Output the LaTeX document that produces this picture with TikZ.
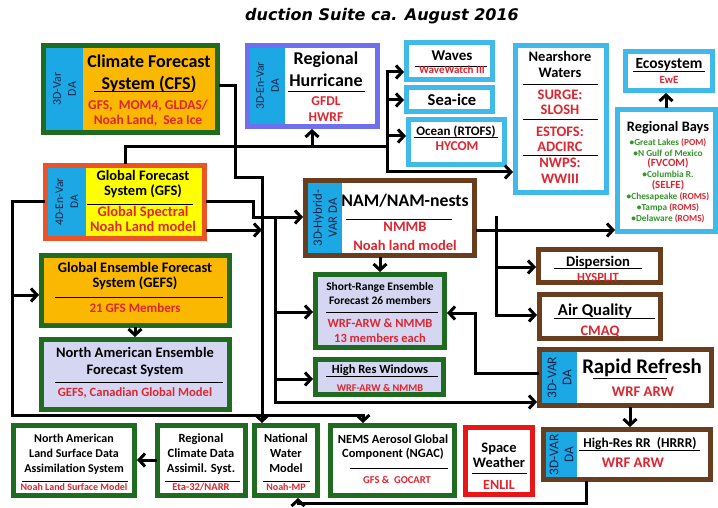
\documentclass[tikz,border=0pt]{standalone}
\usepackage{fontspec}
\setmainfont{Carlito}
\newfontfamily\headfont{DejaVu Sans}
\usetikzlibrary{arrows.meta,fit}

\definecolor{boxgreen}{RGB}{31,107,31}
\definecolor{boxorange}{RGB}{250,184,0}
\definecolor{dablue}{RGB}{28,168,228}
\definecolor{modred}{RGB}{222,38,48}
\definecolor{hurpurple}{RGB}{112,112,238}
\definecolor{seablue}{RGB}{64,186,234}
\definecolor{nambrown}{RGB}{104,62,30}
\definecolor{lavender}{RGB}{212,214,242}
\definecolor{gfsorange}{RGB}{236,84,40}
\definecolor{gfsyellow}{RGB}{255,255,0}
\definecolor{baygreen}{RGB}{52,150,40}
\definecolor{spacered}{RGB}{232,22,22}
\definecolor{danavy}{RGB}{25,35,70}

\newcommand\setfs[2]{\fontsize{#1}{#2}\selectfont}

\tikzset{
  box/.style={draw, line width=5pt, inner sep=0pt},
  conn/.style={line width=3pt, line cap=rect},
  arr/.style={conn, -{Straight Barb[length=6pt,width=13pt]}},
  hd/.style={align=center, anchor=base, inner sep=0pt},
  md/.style={hd, text=modred},
  da/.style={rotate=90, align=center, inner sep=0pt, text=danavy, font=\setfs{12}{15}},
  rule/.style={line width=1pt}
}

\begin{document}
\begin{tikzpicture}[x=1pt,y=-1pt]
\useasboundingbox (0,0) rectangle (718,508);

% title (multi-line nodes below sit on their last baseline)
\node[anchor=base, inner sep=0pt, font=\headfont\bfseries\itshape\setfs{16}{19}] (title) at (382,21) {duction Suite ca. August 2016};

% climate forecast system
\node[box, draw=boxgreen, fill=boxorange, fit={(43.5,45.5)(217.5,132.5)}] (cfs) {};
\fill[dablue] (46,48) rectangle (83,130);
\node[da] (cfs-da) at (64.5,89) {3D-Var\\DA};
\node[hd, font=\bfseries\setfs{18}{22}] (cfs-t) at (149,90) {Climate Forecast\\System (CFS)};
\draw[rule] (94,92) -- (193,92);
\node[md, font=\bfseries\setfs{13.5}{15}] (cfs-m) at (148,125) {GFS,\ \ MOM4, GLDAS/\\Noah Land,\ \ Sea Ice};

% regional hurricane
\node[box, draw=hurpurple, fill=white, fit={(247.5,45.5)(377.5,126.5)}] (hur) {};
\fill[dablue] (250,48) rectangle (285,124);
\node[da, font=\setfs{11.6}{15}] (hur-da) at (267.5,86) {3D-En-Var\\DA};
\node[hd, font=\bfseries\setfs{18}{22}] (hur-t) at (326,87) {Regional\\Hurricane};
\draw[rule] (288,92) -- (365,92);
\node[md, font=\bfseries\setfs{13.5}{16}] (hur-m) at (326,122) {GFDL\\HWRF};

% ocean side
\node[box, draw=seablue, fill=white, fit={(406.5,42.5)(492.5,79.5)}] (waves) {};
\node[hd, font=\bfseries\setfs{15}{18}] (waves-t) at (452,61) {Waves};
\draw[rule] (415,67) -- (487,67);
\node[md, font=\bfseries\setfs{11}{13}] (waves-m) at (452,74) {WaveWatch III};

\node[box, draw=seablue, fill=white, fit={(406.5,87.5)(492.5,111.5)}] (seaice) {};
\node[hd, font=\bfseries\setfs{16.5}{20}] (seaice-t) at (452,106) {Sea-ice};

\node[box, draw=seablue, fill=white, fit={(408.5,119.5)(504.5,164.5)}] (ocean) {};
\node[hd, font=\bfseries\setfs{13}{16}] (ocean-t) at (456,136) {Ocean (RTOFS)};
\draw[rule] (414,138) -- (498,138);
\node[md, font=\bfseries\setfs{13.5}{16}] (ocean-m) at (457,151) {HYCOM};

\node[box, draw=seablue, fill=white, fit={(515.5,45.5)(606.5,192.5)}] (near) {};
\node[hd, font=\bfseries\setfs{14.5}{16}] (near-t) at (560,78) {Nearshore\\Waters};
\draw[rule] (523,85) -- (598,85);
\node[md, font=\bfseries\setfs{14.5}{15}] (near-m1) at (560,115) {SURGE:\\SLOSH};
\draw[rule] (523,120) -- (598,120);
\node[md, font=\bfseries\setfs{14.5}{15}] (near-m2) at (560,152) {ESTOFS:\\ADCIRC};
\draw[rule] (523,156) -- (598,156);
\node[md, font=\bfseries\setfs{14.5}{17}] (near-m3) at (560,184) {NWPS:\\WWIII};

\node[box, draw=seablue, fill=white, fit={(625.5,51.5)(712.5,90.5)}] (eco) {};
\node[hd, font=\bfseries\setfs{15.5}{18}] (eco-t) at (669,69) {Ecosystem};
\draw[rule] (633,72) -- (705,72);
\node[md, font=\bfseries\setfs{11}{13}] (eco-m) at (669,84) {EwE};

\node[box, draw=seablue, fill=white, fit={(617.5,109.5)(715.5,231.5)}] (bays) {};
\node[hd, font=\bfseries\setfs{14.4}{17}] (bays-t) at (668,132) {Regional Bays};
\node[hd, text=baygreen, font=\bfseries\setfs{9.3}{11}] (bays-m) at (668,222)
  {\textbullet Great Lakes \textcolor{modred}{(POM)}\\
   \textbullet N Gulf of Mexico\\
   \textcolor{modred}{\setfs{11}{11}(FVCOM)}\\
   \textbullet Columbia R.\\
   \textcolor{modred}{\setfs{11}{11}(SELFE)}\\
   \textbullet Chesapeake \textcolor{modred}{(ROMS)}\\
   \textbullet Tampa \textcolor{modred}{(ROMS)}\\
   \textbullet Delaware \textcolor{modred}{(ROMS)}};

% global forecast system
\node[box, draw=gfsorange, fill=gfsyellow, fit={(45.5,165.5)(204.5,238.5)}] (gfs) {};
\fill[dablue] (48,168) rectangle (86,236);
\node[da, font=\setfs{11.6}{15}] (gfs-da) at (67,202) {4D-En-Var\\DA};
\node[hd, font=\bfseries\setfs{14.5}{15}] (gfs-t) at (143,196) {Global Forecast\\System (GFS)};
\draw[rule] (87,205) -- (193,205);
\node[md, font=\bfseries\setfs{14.5}{15}] (gfs-m) at (143,232) {Global Spectral\\Noah Land model};

\node[box, draw=boxgreen, fill=boxorange, fit={(41.5,255.5)(229.5,325.5)}] (gefs) {};
\node[hd, font=\bfseries\setfs{14.5}{15}] (gefs-t) at (135,287) {Global Ensemble Forecast\\System (GEFS)};
\draw[rule] (55,297) -- (223,297);
\node[md, font=\bfseries\setfs{13}{15}] (gefs-m) at (135,312) {21 GFS Members};

\node[box, draw=boxgreen, fill=lavender, fit={(41.5,339.5)(229.5,409.5)}] (naefs) {};
\node[hd, font=\bfseries\setfs{14.5}{17}] (naefs-t) at (135,374) {North American Ensemble\\Forecast System};
\draw[rule] (55,382) -- (223,382);
\node[md, font=\bfseries\setfs{12.6}{15}] (naefs-m) at (135,396) {GEFS, Canadian Global Model};

% bottom row
\node[box, draw=boxgreen, fill=white, fit={(13.5,425.5)(134.5,495.5)}] (nldas) {};
\node[hd, font=\bfseries\setfs{12}{15}] (nldas-t) at (74,472) {North American\\Land Surface Data\\Assimilation System};
\draw[rule] (22,481) -- (128,481);
\node[md, font=\bfseries\setfs{10}{12}] (nldas-m) at (74,490) {Noah Land Surface Model};

\node[box, draw=boxgreen, fill=white, fit={(157.5,425.5)(245.5,495.5)}] (rcd) {};
\node[hd, font=\bfseries\setfs{12.5}{15}] (rcd-t) at (201,472) {Regional\\Climate Data\\Assimil. Syst.};
\draw[rule] (165,481) -- (240,481);
\node[md, font=\bfseries\setfs{10.5}{12}] (rcd-m) at (201,490) {Eta-32/NARR};

\node[box, draw=boxgreen, fill=white, fit={(254.5,425.5)(317.5,495.5)}] (nwm) {};
\node[hd, font=\bfseries\setfs{12.4}{15}] (nwm-t) at (286,472) {National\\Water\\Model};
\draw[rule] (263,481) -- (310,481);
\node[md, font=\bfseries\setfs{10}{12}] (nwm-m) at (286,490) {Noah-MP};

\node[box, draw=boxgreen, fill=white, fit={(330.5,425.5)(454.5,495.5)}] (ngac) {};
\node[hd, font=\bfseries\setfs{12.5}{14}] (ngac-t) at (393,457) {NEMS Aerosol Global\\Component (NGAC)};
\draw[rule] (350,468) -- (448,468);
\node[md, font=\bfseries\setfs{10.5}{12}] (ngac-m) at (397,483) {GFS \&\ \ GOCART};

\node[box, draw=spacered, fill=white, fit={(465.5,427.5)(532.5,494.5)}] (spw) {};
\node[hd, font=\bfseries\setfs{14.5}{15}] (spw-t) at (499,467) {Space\\Weather};
\draw[rule] (472,473) -- (527,473);
\node[md, font=\bfseries\setfs{14}{16}] (spw-m) at (499,489) {ENLIL};

% mesoscale
\node[box, draw=nambrown, fill=white, fit={(305.5,180.5)(474.5,255.5)}] (nam) {};
\fill[dablue] (308,183) rectangle (342,253);
\node[da, font=\setfs{12.8}{15}] (nam-da) at (325,218) {3D-Hybrid-\\VAR DA};
\node[hd, font=\bfseries\setfs{17.7}{20}] (nam-t) at (405,207) {NAM/NAM-nests};
\draw[rule] (346,219) -- (452,219);
\node[md, font=\bfseries\setfs{14.5}{18}] (nam-m) at (405,250) {NMMB\\Noah land model};

\node[box, draw=boxgreen, fill=lavender, fit={(315.5,274.5)(444.5,347.5)}] (sref) {};
\node[hd, font=\bfseries\setfs{11.5}{14}] (sref-t) at (380,304) {Short-Range Ensemble\\Forecast 26 members};
\draw[rule] (326,312) -- (438,312);
\node[md, font=\bfseries\setfs{12.5}{15}] (sref-m) at (380,342) {WRF-ARW \& NMMB\\13 members each};

\node[box, draw=boxgreen, fill=lavender, fit={(315.5,359.5)(443.5,394.5)}] (hrw) {};
\node[hd, font=\bfseries\setfs{12.5}{15}] (hrw-t) at (380,373) {High Res Windows};
\draw[rule] (326,376) -- (438,376);
\node[md, font=\bfseries\setfs{10.3}{12}] (hrw-m) at (380,391) {WRF-ARW \& NMMB};

\node[box, draw=nambrown, fill=white, fit={(538.5,249.5)(660.5,282.5)}] (disp) {};
\node[hd, font=\bfseries\setfs{14.6}{17}] (disp-t) at (598,266) {Dispersion};
\draw[rule] (554,268) -- (642,268);
\node[md, font=\bfseries\setfs{12.5}{15}] (disp-m) at (598,281) {HYSPLIT};

\node[box, draw=nambrown, fill=white, fit={(539.5,294.5)(660.5,338.5)}] (aq) {};
\node[hd, font=\bfseries\setfs{16.6}{19}] (aq-t) at (595,315) {Air Quality};
\draw[rule] (554,318) -- (655,318);
\node[md, font=\bfseries\setfs{14.5}{17}] (aq-m) at (600,335) {CMAQ};

\node[box, draw=nambrown, fill=white, fit={(539.5,349.5)(711.5,405.5)}] (rap) {};
\fill[dablue] (542,352) rectangle (577,403);
\node[da, font=\setfs{13.4}{15}] (rap-da) at (559.5,377.5) {3D-VAR\\DA};
\node[hd, font=\bfseries\setfs{20.8}{24}] (rap-t) at (642,373) {Rapid Refresh};
\draw[rule] (593,378) -- (667,378);
\node[md, font=\bfseries\setfs{14.7}{17}] (rap-m) at (643,396) {WRF ARW};

\node[box, draw=nambrown, fill=white, fit={(543.5,429.5)(710.5,479.5)}] (hrrr) {};
\fill[dablue] (546,432) rectangle (577,477);
\node[da, font=\setfs{13.4}{15}] (hrrr-da) at (561.5,455) {3D-VAR\\DA};
\node[hd, font=\bfseries\setfs{13.5}{16}] (hrrr-t) at (640,447) {High-Res RR\ \ (HRRR)};
\draw[rule] (579,450) -- (700,450);
\node[md, font=\bfseries\setfs{14.7}{17}] (hrrr-m) at (633,467) {WRF ARW};

% junctions
\coordinate (oceanbus) at (387,147);
\coordinate (gfsbus) at (275,217);
\coordinate (cfsline) at (262,230);
\coordinate (nambus) at (496,217);
\coordinate (leftbus) at (12,295);

% connectors
\draw[arr] (cfs.east |- 0,86) -- (235,86) -- (235,178) -- (262,178) -- (nwm.north -| 262,0);
\draw[arr] (gfs.north -| 125,0) -- (125,147) -- (oceanbus) -- (387,172) -- (near.west |- 0,172);
\draw[arr] (oceanbus) -- (387,72) -- (waves.west |- 0,72);
\draw[arr] (oceanbus |- 0,100) -- (seaice.west |- 0,100);
\draw[arr] (oceanbus |- 0,136) -- (ocean.west |- 0,136);
\draw[arr] (312,147) -- (hur.south -| 312,0);
\draw[arr] (gfs.west |- 0,202) -- (12,202) -- (12,415) -- (363,415) -- (ngac.north -| 363,0);
\draw[arr] (leftbus) -- (gefs.west |- leftbus);
\draw[arr] (gefs.south -| 135,0) -- (naefs.north -| 135,0);
\draw[arr] (rcd.west |- 0,460) -- (nldas.east |- 0,460);
\draw[arr] (gfs.east |- 0,202) -- (253,202) -- (253,217) -- (nam.west |- gfsbus);
\draw[arr] (gfsbus) -- (275,402) -- (rap.west |- 0,402);
\draw[arr] (gfsbus |- 0,312) -- (sref.west |- 0,312);
\draw[arr] (gfsbus |- 0,379) -- (hrw.west |- 0,379);
\draw[arr] (gfs.east |- cfsline) -- (cfsline);
\draw[arr] (nam.south -| 380,0) -- (sref.north -| 380,0);
\draw[arr] (nam.east |- 0,230) -- (bays.west |- 0,230);
\draw[arr] (nambus) -- (496,315) -- (aq.west |- 0,315);
\draw[arr] (nambus |- 0,267) -- (disp.west |- 0,267);
\draw[arr] (rap.west |- 0,373) -- (475,373) -- (475,313) -- (sref.east |- 0,313);
\draw[arr] (rap.south -| 630,0) -- (hrrr.north -| 630,0);
\draw[arr] (hrrr.south -| 586,0) -- (586,503) -- (298,503) -- (nwm.south -| 298,0);
\draw[arr] (bays.north -| 666,0) -- (eco.south -| 666,0);
\end{tikzpicture}
\end{document}
